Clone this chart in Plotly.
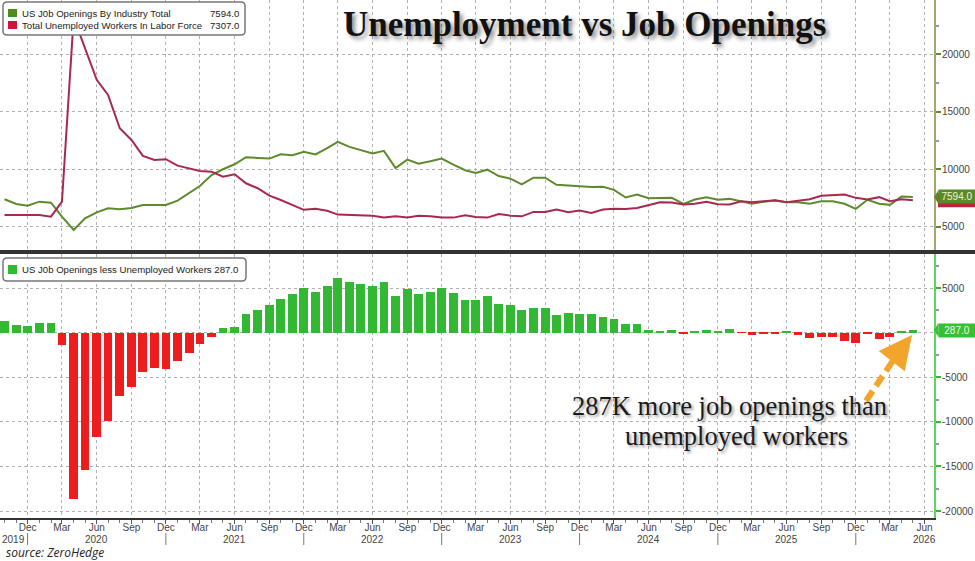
import pandas as pd
import plotly.graph_objects as go

# ---------------- data (thousands) ----------------
openings = [7390, 6980, 6830, 7180, 7090, 5870, 4710, 5730, 6250, 6600,
            6515, 6630, 6890, 6890, 6890, 7265, 7910, 8545, 9500, 10000,
            10435, 11045, 10985, 10930, 11305, 11220, 11520, 11290, 11830, 12390,
            11950, 11660, 11370, 11600, 10110, 10840, 10490, 10690, 10930, 10400,
            9910, 9670, 9960, 9410, 9180, 8680, 9260, 9260, 8650, 8590,
            8530, 8450, 8470, 8210, 7540, 7800, 7480, 7480, 7510, 6990,
            7365, 7570, 7340, 7420, 7190, 6990, 7160, 7280, 7130, 7130,
            6990, 7220, 7220, 6990, 6550, 7340, 6990, 6900, 7620, 7594]

unemployed = [6020, 6020, 5960, 6020, 5870, 7180, 23200, 20600, 17780, 16470,
              13570, 12550, 11160, 10810, 10870, 10315, 10085, 9850, 9790, 9355,
              9560, 8780, 8345, 7700, 7325, 6890, 6470, 6570, 6380, 6050,
              6020, 5960, 5960, 5790, 5900, 5790, 5960, 5900, 5790, 5790,
              5990, 5850, 5790, 6110, 5960, 5900, 6285, 6285, 6490, 6260,
              6400, 6200, 6490, 6560, 6530, 6635, 6900, 7130, 7100, 6930,
              6990, 7160, 6960, 6930, 7220, 7130, 7220, 7310, 7130, 7280,
              7390, 7690, 7745, 7800, 7510, 7365, 7570, 7220, 7390, 7307]

gap = [1300, 900, 700, 1100, 1100, -1400, -18600, -15450, -11670, -9910,
       -7100, -6100, -4380, -3960, -4080, -3180, -2240, -1310, -490, 490,
       670, 2130, 2510, 3100, 3820, 4300, 4970, 4600, 5240, 6170,
       5720, 5420, 5200, 5650, 4080, 4860, 4380, 4560, 4970, 4410,
       3700, 3630, 4080, 3180, 3100, 2580, 2800, 2800, 1980, 2240,
       2060, 2060, 1780, 1500, 940, 1010, 300, 150, 340, -60,
       220, 300, 220, 370, -40, -220, -150, -110, 80, -220,
       -560, -490, -490, -930, -1120, -190, -700, -450, 150, 287]

start_month = "2019-10-01"
dates = pd.date_range(start_month, periods=len(openings), freq="MS")

upper_ticks = [5000, 10000, 15000, 20000]
upper_ticktext = ["5000", "10000", "15000", "20000"]
lower_ticks = [5000, 0, -5000, -10000, -15000, -20000]
lower_ticktext = ["5000", "", "-5000", "-10000", "-15000", "-20000"]
year_labels = ["2019", "2020", "2021", "2022", "2023", "2024", "2025", "2026"]
year_label_pos = ["2019-09-19", "2020-06-01", "2021-06-01", "2022-06-01",
                  "2023-06-01", "2024-06-01", "2025-06-01", "2026-06-01"]
year_dividers = ["2019-12-01", "2020-12-01", "2021-12-01", "2022-12-01",
                 "2023-12-01", "2024-12-01", "2025-12-01"]

name_open = "US J0b Openings By Industry Total"
name_unemp = "Total Unemployed Workers In Labor Force"
name_gap = "US J0b Openings less Unemployed Workers"

# ---------------- styles ----------------
W, H = 975, 561
PW, PH = 934, 518          # plot area (margins r=41, b=43)
C_OPEN = "#5e8a2e"
C_UNEMP = "#a8284e"
C_GBAR = "#33b833"
C_RBAR = "#ee1c1c"
C_OLIVE_AX = "#a3a86c"
C_GREEN_AX = "#5cd65c"
GRID = "#b0b0b0"
FONT = "Liberation Sans"

def px(x):
    return x / PW

def py(y):
    return (PH - y) / PH

def rrect(x0, y0, x1, y1, r=4):
    pts = [("M", x0 + r, y0), ("L", x1 - r, y0), ("Q", x1, y0, x1, y0 + r),
           ("L", x1, y1 - r), ("Q", x1, y1, x1 - r, y1), ("L", x0 + r, y1),
           ("Q", x0, y1, x0, y1 - r), ("L", x0, y0 + r), ("Q", x0, y0, x0 + r, y0)]
    s = ""
    for p in pts:
        cmd = p[0]
        coords = p[1:]
        parts = []
        for i in range(0, len(coords), 2):
            parts.append(f"{px(coords[i]):.5f},{py(coords[i+1]):.5f}")
        s += cmd + " " + " ".join(parts) + " "
    return s + "Z"

fig = go.Figure()
fig.add_trace(go.Scatter(x=dates, y=openings, mode="lines", name=name_open,
                         line=dict(color=C_OPEN, width=2), xaxis="x", yaxis="y"))
fig.add_trace(go.Scatter(x=dates, y=unemployed, mode="lines", name=name_unemp,
                         line=dict(color=C_UNEMP, width=2), xaxis="x", yaxis="y"))
fig.add_trace(go.Bar(x=dates, y=gap, name=name_gap,
                     marker=dict(color=[C_GBAR if v >= 0 else C_RBAR for v in gap], line_width=0),
                     width=23 * 86400000, xaxis="x2", yaxis="y2"))

xrange = ["2019-09-19", "2026-06-26"]
common_x = dict(range=xrange, type="date", dtick="M3", tick0="2019-12-01",
                showgrid=True, gridcolor=GRID, griddash="dot", gridwidth=1, zeroline=False)

U_RANGE = [2971, 24730]
L_RANGE = [-20783, 8811]
fig.update_layout(
    width=W, height=H, autosize=False,
    margin=dict(l=0, r=W - PW, t=0, b=H - PH, autoexpand=False),
    paper_bgcolor="white", plot_bgcolor="white",
    showlegend=False, bargap=0,
    xaxis=dict(domain=[0, 1], anchor="y", showticklabels=False, ticks="", showline=False,
               matches="x2", **common_x),
    xaxis2=dict(domain=[0, 1], anchor="y2", tickformat="%b", ticks="outside", ticklen=4,
                tickcolor="#555", showline=True, linecolor="#333", linewidth=2,
                ticklabelstandoff=-5,
                tickfont=dict(family=FONT, size=10, color="#444"),
                minor=dict(dtick="M1", ticks="outside", ticklen=3, tickcolor="#777", showgrid=False),
                **common_x),
    yaxis=dict(domain=[1 - 250 / PH, 1], anchor="x", side="right", range=U_RANGE,
               tickvals=upper_ticks, ticktext=upper_ticktext, showgrid=True, gridcolor=GRID, griddash="dot",
               showline=True, linecolor=C_OLIVE_AX, linewidth=2, zeroline=False,
               ticks="outside", ticklen=5, tickwidth=2, tickcolor=C_OPEN, ticklabelstandoff=-1,
               tickfont=dict(family=FONT, size=10, color="#444"),
               minor=dict(dtick=2500, tick0=0, ticks="outside", ticklen=3, tickcolor="#999", showgrid=False)),
    yaxis2=dict(domain=[0, 1 - 254 / PH], anchor="x2", side="right", range=L_RANGE,
                tickvals=lower_ticks, ticktext=lower_ticktext, showgrid=True, gridcolor=GRID,
                griddash="dot", showline=True, linecolor=C_GREEN_AX, linewidth=2, zeroline=False,
                ticks="outside", ticklen=5, tickwidth=2, tickcolor=C_GBAR, ticklabelstandoff=-1,
                tickfont=dict(family=FONT, size=10, color="#444"),
                minor=dict(dtick=2500, tick0=0, ticks="outside", ticklen=3, tickcolor="#999", showgrid=False)),
)

shapes = []
annos = []

# separator between panels
shapes.append(dict(type="line", xref="paper", yref="paper", x0=0, x1=W / PW,
                   y0=py(252), y1=py(252), line=dict(color="#333", width=4)))

# year dividers
for d in year_dividers:
    shapes.append(dict(type="line", xref="x2", yref="paper", x0=d, x1=d,
                       y0=py(533), y1=py(545), line=dict(color="#777", width=1)))
for i, (lab, d) in enumerate(zip(year_labels, year_label_pos)):
    annos.append(dict(text=lab, xref="x2", yref="paper", x=d, y=py(539), showarrow=False,
                      xanchor="left" if i == 0 else "center", yanchor="middle",
                      font=dict(family=FONT, size=10, color="#444")))

# legend boxes
shapes.append(dict(type="path", xref="paper", yref="paper", path=rrect(3, 2, 245, 35),
                   fillcolor="white", line=dict(color="#777", width=1.5), layer="above"))
shapes.append(dict(type="path", xref="paper", yref="paper", path=rrect(3, 258, 246, 281),
                   fillcolor="white", line=dict(color="#777", width=1.5), layer="above"))
for (y0, y1, col) in [(9, 17, "#4c8c1c"), (21, 29, "#c8163c"), (265, 274, C_GBAR)]:
    shapes.append(dict(type="rect", xref="paper", yref="paper", x0=px(8), x1=px(17),
                       y0=py(y1), y1=py(y0), fillcolor=col, line_width=0, layer="above"))

leg_font = dict(family=FONT, size=9.6, color="#222")
annos.append(dict(text=name_open, xref="paper", yref="paper", x=px(20), y=py(13.5),
                  xanchor="left", yanchor="middle", showarrow=False, font=leg_font))
annos.append(dict(text=f"{openings[-1]:.1f}", xref="paper", yref="paper", x=px(241), y=py(13.5),
                  xanchor="right", yanchor="middle", showarrow=False, font=leg_font))
annos.append(dict(text=name_unemp, xref="paper", yref="paper", x=px(20), y=py(25.5),
                  xanchor="left", yanchor="middle", showarrow=False, font=leg_font))
annos.append(dict(text=f"{unemployed[-1]:.1f}", xref="paper", yref="paper", x=px(241), y=py(25.5),
                  xanchor="right", yanchor="middle", showarrow=False, font=leg_font))
annos.append(dict(text=f"{name_gap} {gap[-1]:.1f}", xref="paper", yref="paper", x=px(20), y=py(269.5),
                  xanchor="left", yanchor="middle", showarrow=False, font=leg_font))

# last value markers on the right axes
u_per_px = (U_RANGE[1] - U_RANGE[0]) / 250.0
l_per_px = (L_RANGE[1] - L_RANGE[0]) / 264.0
# red label of the unemployed series, mostly hidden behind the green one
shapes.append(dict(type="rect", xref="paper", yref="y", x0=px(938), x1=px(975),
                   y0=unemployed[-1] - 7 * u_per_px, y1=unemployed[-1] + 7 * u_per_px,
                   fillcolor="#c0203a", line_width=0, layer="above"))
for val, yref, col, per in [(openings[-1], "y", "#5a8a28", u_per_px),
                            (gap[-1], "y2", "#35c035", l_per_px)]:
    shapes.append(dict(type="path", xref="paper", yref=yref,
                       path=f"M {px(934):.5f},{val} L {px(938.5):.5f},{val + 7 * per} "
                            f"L {px(938.5):.5f},{val - 7 * per} Z",
                       fillcolor=col, line_width=0, layer="above"))
annos.append(dict(text=f"{openings[-1]:.1f}", xref="paper", yref="y", x=px(938), y=openings[-1],
                  xanchor="left", yanchor="middle", showarrow=False, bgcolor="#5a8a28",
                  font=dict(family=FONT, size=10, color="#eef5dd"), borderpad=1, width=34))
annos.append(dict(text=f"{gap[-1]:.1f}", xref="paper", yref="y2", x=px(938), y=gap[-1],
                  xanchor="left", yanchor="middle", showarrow=False, bgcolor="#35c035",
                  font=dict(family=FONT, size=10, color="#eaffea"), borderpad=1, width=34))

# title
annos.append(dict(text="Unemployment vs Job Openings", xref="paper", yref="paper",
                  x=px(584), y=py(24), xanchor="center", yanchor="middle", showarrow=False,
                  font=dict(family="Liberation Serif", size=35, color="#111", weight="bold",
                            shadow="3px 3px 4px rgba(0,0,0,0.45)")))

# callout text
call_font = dict(family="Liberation Serif", size=26.5, color="#1a1a1a",
                 shadow="2px 2px 3px rgba(0,0,0,0.4)")
annos.append(dict(text=f"{gap[-1]}K more job openings than", xref="paper", yref="paper",
                  x=px(729), y=py(406), xanchor="center", yanchor="middle", showarrow=False, font=call_font))
annos.append(dict(text="unemployed workers", xref="paper", yref="paper",
                  x=px(736), y=py(436), xanchor="center", yanchor="middle", showarrow=False, font=call_font))

# dashed arrow
ORANGE = "#f2a52b"
shapes.append(dict(type="line", xref="paper", yref="paper", x0=px(866), y0=py(401),
                   x1=px(898), y1=py(353), line=dict(color=ORANGE, width=6, dash="12px,6px")))
annos.append(dict(text="", xref="paper", yref="paper", x=px(912), y=py(335),
                  ax=-14, ay=18, showarrow=True, arrowhead=2, arrowsize=1.1, arrowwidth=6,
                  arrowcolor=ORANGE, standoff=0))

# source
annos.append(dict(text="source: ZeroHedge", xref="paper", yref="paper", x=px(4), y=py(552.5),
                  xanchor="left", yanchor="middle", showarrow=False,
                  font=dict(family="Open Sans", size=12, color="#222", style="italic")))

fig.update_layout(shapes=shapes, annotations=annos)
fig.write_html("out.html", config={"displayModeBar": False},
               post_script="document.body.style.margin='0';document.body.style.padding='0';")
